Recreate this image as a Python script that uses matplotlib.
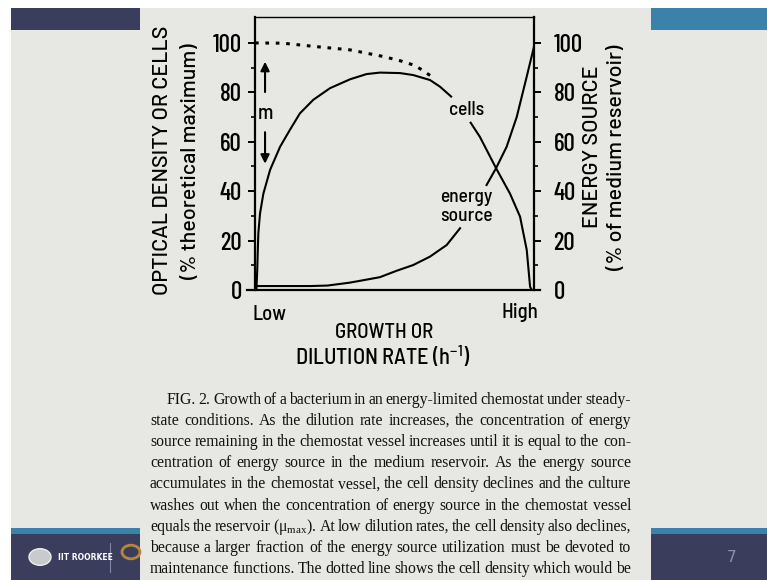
import matplotlib
matplotlib.use('Agg')
import matplotlib.pyplot as plt
from matplotlib.patches import Rectangle, Circle
from matplotlib.lines import Line2D

W, H = 767, 580

# ------------------------------------------------------------------------
# curve values (x: 0 = Low, 1 = High, y: percent)
cells_x = [0.005, 0.008, 0.010, 0.012, 0.018, 0.030, 0.054, 0.090, 0.125, 0.161,
           0.209, 0.269, 0.341, 0.400, 0.448, 0.520, 0.567, 0.627, 0.663, 0.703]
cells_y = [0, 8, 16, 23, 31, 39, 48.6, 58, 64.8, 71.5,
           77, 81.7, 85.3, 87.4, 88, 87.8, 87, 85, 82.3, 78.3]
cells2_x = [0.773, 0.806, 0.864, 0.914, 0.950, 0.974, 0.986, 0.992]
cells2_y = [67.7, 62, 49.3, 39, 29.7, 16.2, 1.3, 0]

energy_x = [0.006, 0.10, 0.20, 0.26, 0.341, 0.40, 0.448, 0.508, 0.567, 0.627, 0.687, 0.735]
energy_y = [1.6, 1.6, 1.6, 1.8, 3.0, 4.2, 5.2, 7.8, 10.1, 13.5, 18.2, 25]
energy2_x = [0.830, 0.864, 0.902, 0.938, 0.974, 1.0]
energy2_y = [42.5, 49.3, 58, 70, 86.4, 98.5]

dotted_x = [0.0, 0.10, 0.22, 0.34, 0.46, 0.52, 0.57, 0.60, 0.638]
dotted_y = [100, 99.9, 98.5, 97.2, 94.5, 92.8, 91, 89, 86]

yticks = [0, 20, 40, 60, 80, 100]
yminor = [10, 30, 50, 70, 90]

caption = [
    "FIG. 2. Growth of a bacterium in an energy-limited chemostat under steady-",
    "state conditions. As the dilution rate increases, the concentration of energy",
    "source remaining in the chemostat vessel increases until it is equal to the con-",
    "centration of energy source in the medium reservoir. As the energy source",
    "accumulates in the chemostat vessel, the cell density declines and the culture",
    "washes out when the concentration of energy source in the chemostat vessel",
    "equals the reservoir (\u03bc$_{\\mathdefault{max}}$). At low dilution rates, the cell density also declines,",
    "because a larger fraction of the energy source utilization must be devoted to",
    "maintenance functions. The dotted line shows the cell density which would be",
]

AXIS_FONT = ['Barlow', 'Liberation Sans', 'DejaVu Sans']
LABEL_FONT = ['Barlow Semi Condensed', 'Liberation Sans', 'DejaVu Sans']
TICK_FONT = ['Barlow Condensed', 'Liberation Sans', 'DejaVu Sans']
SERIF = ['Liberation Serif', 'DejaVu Serif']
NAVY = '#3a3e5c'
BLUE = '#3b82ab'
BG = '#e7e8e4'


def fx(px):
    return px / W


def fy(py):
    return 1 - py / H


def box(x0, y0, x1, y1, color, z=0):
    fig.add_artist(Rectangle((fx(x0), fy(y1)), fx(x1) - fx(x0), fy(y0) - fy(y1),
                             transform=fig.transFigure, facecolor=color,
                             edgecolor='none', zorder=z))


fig = plt.figure(figsize=(W / 100, H / 100), dpi=100)
fig.patch.set_facecolor('white')

# ------------------------------------------------------------------------
# slide frame
box(11, 8, W, H, BG)
box(11, 8, 140, 30, NAVY, 1)
box(651, 8, W, 30, BLUE, 1)
box(11, 528, 140, 534, BLUE, 1)
box(11, 534, 140, H, NAVY, 1)
box(651, 528, W, 534, BLUE, 1)
box(651, 534, W, H, NAVY, 1)

fig.add_artist(Circle((fx(40), fy(557)), 11 / W, transform=fig.transFigure,
                      facecolor='#c9cacd', edgecolor='#eeeeee', lw=1, zorder=2))
fig.text(fx(58), fy(557), 'IIT ROORKEE', color='white', fontsize=5.5,
         fontweight='bold', ha='left', va='center', zorder=3)
fig.add_artist(Line2D([fx(110), fx(110)], [fy(543), fy(572)], transform=fig.transFigure,
                      color='#7f86a8', lw=0.8, zorder=2))
fig.add_artist(Circle((fx(131), fy(552)), 9 / W, transform=fig.transFigure,
                      facecolor='none', edgecolor='#b8863a', lw=2, zorder=2))
fig.text(fx(732), fy(557), '7', color='#8d92a8', fontsize=11, ha='center', va='center',
         zorder=3)

# ------------------------------------------------------------------------
# the plot
ax = fig.add_axes([fx(255), fy(290), fx(534) - fx(255), fy(17) - fy(290)])
ax.set_facecolor('none')
ax.set_xlim(0, 1)
ax.set_ylim(0, 110.5)

ax.plot(cells_x, cells_y, color='black', lw=1.5)
ax.plot(cells2_x, cells2_y, color='black', lw=1.5)
ax.plot(energy_x, energy_y, color='black', lw=1.5)
ax.plot(energy2_x, energy2_y, color='black', lw=1.5)
ax.plot(dotted_x, dotted_y, color='black', lw=2.2, linestyle=(0, (1.2, 2.2)))

ax.text(0.757, 73, 'cells', fontsize=14, family=LABEL_FONT, fontweight='medium',
        ha='center', va='center')
ax.text(0.757, 37.5, 'energy', fontsize=14, family=LABEL_FONT, fontweight='medium',
        ha='center', va='center')
ax.text(0.757, 30, 'source', fontsize=14, family=LABEL_FONT, fontweight='medium',
        ha='center', va='center')
ax.text(0.036, 71.5, 'm', fontsize=15, family=LABEL_FONT, fontweight='medium',
        ha='center', va='center')
ax.annotate('', xy=(0.036, 93.5), xytext=(0.036, 79),
            arrowprops=dict(arrowstyle='-|>', lw=1.5, color='black', mutation_scale=13))
ax.annotate('', xy=(0.036, 50), xytext=(0.036, 65),
            arrowprops=dict(arrowstyle='-|>', lw=1.5, color='black', mutation_scale=13))

for s in ['left', 'bottom', 'right']:
    ax.spines[s].set_linewidth(1.6)
ax.spines['top'].set_linewidth(1.0)
ax.spines['bottom'].set_bounds(-0.029, 1.022)

ax.set_xticks([])
ax.set_yticks(yticks)
ax.set_yticks(yminor, minor=True)
ax.tick_params(axis='y', which='major', direction='out', length=5, width=1.4, pad=4.5,
               labelsize=18)
ax.tick_params(axis='y', which='minor', direction='out', length=3, width=1.2)
for lab in ax.get_yticklabels():
    lab.set_family(TICK_FONT)
    lab.set_fontweight('medium')

ax2 = ax.twinx()
ax2.set_ylim(0, 110.5)
ax2.set_yticks(yticks)
ax2.set_yticks(yminor, minor=True)
ax2.tick_params(axis='y', which='major', direction='out', length=5, width=1.4, pad=9,
                labelsize=18)
ax2.tick_params(axis='y', which='minor', direction='out', length=3, width=1.2)
for lab in ax2.get_yticklabels():
    lab.set_family(TICK_FONT)
    lab.set_fontweight('medium')
for s in ax2.spines.values():
    s.set_visible(False)

lab_kw = dict(rotation=90, ha='center', va='center', fontsize=15.5, family=AXIS_FONT,
              fontweight='medium')
fig.text(fx(163), fy(160), 'OPTICAL DENSITY OR CELLS', **lab_kw)
fig.text(fx(190), fy(161), '(% theoretical maximum)', **lab_kw)
fig.text(fx(592), fy(147), 'ENERGY SOURCE', **lab_kw)
fig.text(fx(617), fy(157), '(% of medium reservoir)', **lab_kw)

x_kw = dict(va='center', fontsize=15, family=LABEL_FONT, fontweight='medium')
fig.text(fx(252), fy(315), 'Low', ha='left', **x_kw)
fig.text(fx(538), fy(313), 'High', ha='right', **x_kw)
fig.text(fx(384), fy(332), 'GROWTH OR', ha='center', **x_kw)
fig.text(fx(383), fy(356), 'DILUTION RATE (h$^{\\mathdefault{-1}}$)', ha='center',
         va='center', fontsize=16, family=LABEL_FONT, fontweight='medium')

# ------------------------------------------------------------------------
# caption, justified between two edges
renderer = fig.canvas.get_renderer()
left_edge, right_edge, indent = 150, 631, 167
base0, step = 404, 21.1


def word_widths(words, size):
    out = []
    for w in words:
        t = fig.text(0, 0, w, fontsize=size, family=SERIF)
        out.append(t.get_window_extent(renderer).width)
        t.remove()
    return out


size = 12.5
worst = 1.0
for i, line in enumerate(caption):
    words = line.split(' ')
    ww = word_widths(words, size)
    avail = right_edge - (indent if i == 0 else left_edge)
    need = sum(ww) + (len(words) - 1) * size * 0.2
    worst = max(worst, need / avail)
size = size / worst

for i, line in enumerate(caption):
    words = line.split(' ')
    ww = word_widths(words, size)
    x0 = indent if i == 0 else left_edge
    gap = (right_edge - x0 - sum(ww)) / (len(words) - 1)
    x = x0
    for w, wd in zip(words, ww):
        fig.text(fx(x), fy(base0 + i * step), w, fontsize=size, family=SERIF,
                 ha='left', va='baseline', color='#111111')
        x += wd + gap

fig.savefig('out.png', dpi=100, facecolor=fig.get_facecolor())
